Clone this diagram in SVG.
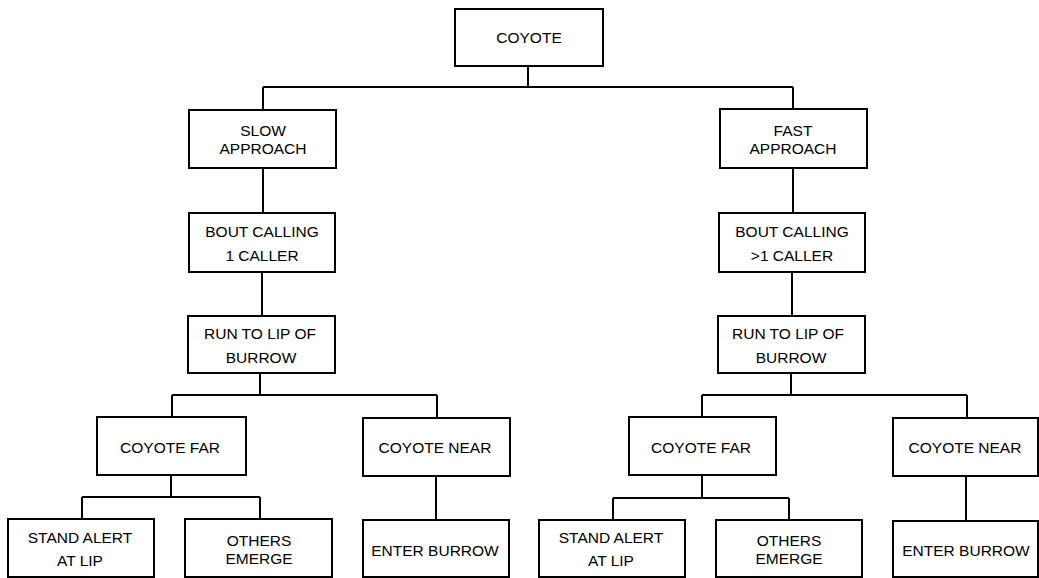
<svg xmlns="http://www.w3.org/2000/svg" width="1039" height="578" viewBox="0 0 1039 578">
<style>
rect.n{fill:#fff;stroke:#000;stroke-width:2}
text{font-family:"Liberation Sans",Arial,sans-serif;font-size:15.5px;fill:#000;text-anchor:middle}
#connectors path{fill:none;stroke:#000;stroke-width:2}
</style>
<rect width="1039" height="578" fill="#fff"/>
<g id="connectors">
<path d="M528,66V87M263,87H793M263,87V110M793,87V109"/>
<path d="M263,168V213M262,272V316M260,373V395M172,395H437M172,395V417M437,395V418"/>
<path d="M171,475V497M82,497H260M82,497V519M260,497V519M436,476V520"/>
<path d="M793,168V213M792,272V316M791,373V395M702,395H967M702,395V417M967,395V418"/>
<path d="M702,475V498M613,498H789M613,498V520M789,498V520M966,476V521"/>
</g>
<g id="coyote"><rect class="n" x="455" y="9" width="148" height="57"/><text x="529" y="43">COYOTE</text></g>
<g id="slow"><rect class="n" x="189" y="110" width="147" height="58"/><text x="263" y="136">SLOW</text><text x="263" y="154">APPROACH</text></g>
<g id="bout1"><rect class="n" x="189" y="213" width="146" height="59"/><text x="262" y="237">BOUT CALLING</text><text x="262" y="261">1 CALLER</text></g>
<g id="run1"><rect class="n" x="188" y="316" width="147" height="57"/><text x="260" y="339">RUN TO LIP OF</text><text x="261" y="363">BURROW</text></g>
<g id="far1"><rect class="n" x="97" y="417" width="149" height="58"/><text x="170" y="453">COYOTE FAR</text></g>
<g id="near1"><rect class="n" x="363" y="418" width="147" height="58"/><text x="435" y="453">COYOTE NEAR</text></g>
<g id="stand1"><rect class="n" x="8" y="519" width="146" height="58"/><text x="80" y="543">STAND ALERT</text><text x="80" y="566">AT LIP</text></g>
<g id="others1"><rect class="n" x="185" y="519" width="147" height="58"/><text x="259" y="546">OTHERS</text><text x="259" y="564">EMERGE</text></g>
<g id="enter1"><rect class="n" x="363" y="520" width="146" height="57"/><text x="435" y="556">ENTER BURROW</text></g>
<g id="fast"><rect class="n" x="720" y="109" width="147" height="59"/><text x="793" y="136">FAST</text><text x="793" y="154">APPROACH</text></g>
<g id="bout2"><rect class="n" x="719" y="213" width="146" height="59"/><text x="792" y="237">BOUT CALLING</text><text x="792" y="261">&gt;1 CALLER</text></g>
<g id="run2"><rect class="n" x="718" y="316" width="147" height="57"/><text x="788" y="339">RUN TO LIP OF</text><text x="791" y="363">BURROW</text></g>
<g id="far2"><rect class="n" x="629" y="417" width="147" height="58"/><text x="701" y="453">COYOTE FAR</text></g>
<g id="near2"><rect class="n" x="893" y="418" width="145" height="58"/><text x="965" y="453">COYOTE NEAR</text></g>
<g id="stand2"><rect class="n" x="539" y="520" width="146" height="57"/><text x="611" y="543">STAND ALERT</text><text x="611" y="566">AT LIP</text></g>
<g id="others2"><rect class="n" x="716" y="520" width="146" height="57"/><text x="789" y="546">OTHERS</text><text x="789" y="564">EMERGE</text></g>
<g id="enter2"><rect class="n" x="893" y="521" width="145" height="56"/><text x="966" y="556">ENTER BURROW</text></g>
</svg>
